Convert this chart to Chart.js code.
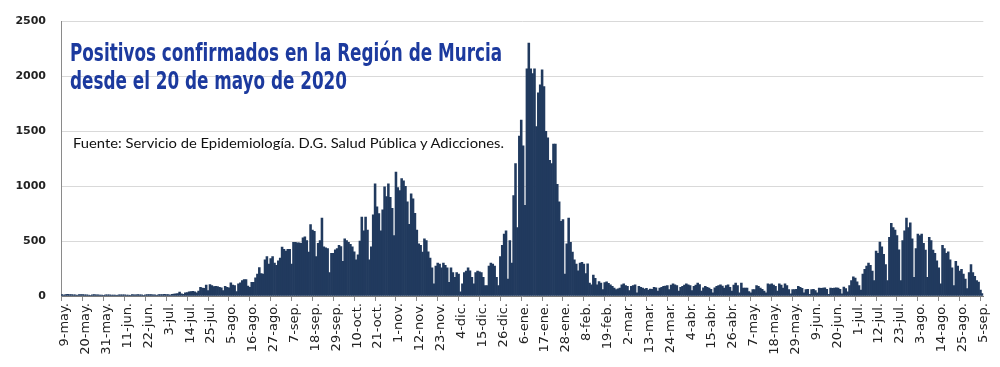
<!DOCTYPE html>
<html lang="es">
<head>
  <meta charset="UTF-8">
  <title>Positivos confirmados en la Región de Murcia</title>
  <script src="https://cdn.jsdelivr.net/npm/chart.js"></script>
  <style>
    body { margin: 0; background: #fff; }
    #wrap { position: relative; width: 1000px; height: 367px; }
    .title {
      position: absolute; left: 70px; top: 39px;
      font-family: 'DejaVu Sans Condensed', Roboto, sans-serif;
      font-weight: bold; font-size: 24px; line-height: 28px;
      color: #1c3a9e; white-space: nowrap; transform-origin: 0 0;
    }
    .source {
      position: absolute; left: 73px; top: 135px;
      font-family: Lato, 'Open Sans', sans-serif;
      font-size: 13px; line-height: 16px; color: #111; white-space: nowrap;
      transform-origin: 0 0;
    }
  </style>
</head>
<body>
<div id="wrap">
  <canvas id="casesChart" width="1000" height="367"></canvas>
  <div class="title" id="title"><span id="t1">Positivos confirmados en la Región de Murcia</span><br>desde el 20 de mayo de 2020</div>
  <div class="source" id="source">Fuente: Servicio de Epidemiología. D.G. Salud Pública y Adicciones.</div>
</div>
<script>
  // one x-axis label every 11 days, starting 9 May 2020
  const tickLabels = [
    '9-may.', '20-may.', '31-may.', '11-jun.', '22-jun.', '3-jul.', '14-jul.', '25-jul.',
    '5-ago.', '16-ago.', '27-ago.', '7-sep.', '18-sep.', '29-sep.', '10-oct.', '21-oct.',
    '1-nov.', '12-nov.', '23-nov.', '4-dic.', '15-dic.', '26-dic.', '6-ene.', '17-ene.',
    '28-ene.', '8-feb.', '19-feb.', '2-mar.', '13-mar.', '24-mar.', '4-abr.', '15-abr.',
    '26-abr.', '7-may.', '18-may.', '29-may.', '9-jun.', '20-jun.', '1-jul.', '12-jul.',
    '23-jul.', '3-ago.', '14-ago.', '25-ago.', '5-sep.'
  ];
  const labelEvery = 11;

  const yTicks = [0, 500, 1000, 1500, 2000, 2500];

  // daily confirmed positives, 9 May 2020 onwards
  const dailyCases = [
    // may - early jul 2020
    12, 8, 14, 15, 13, 12, 11, 10, 6, 12, 13, 12, 11, 10, 9, 5, 11, 12, 10, 10, 9,
    8, 5, 10, 11, 10, 9, 9, 8, 4, 10, 11, 11, 10, 9, 9, 5, 12, 10, 11, 12, 10,
    10, 6, 11, 12, 13, 12, 11, 11, 6, 13, 14, 12, 15, 13, 12, 8, 16, 18, 20, 22,
    // jul
    35, 20, 15, 28, 32, 38, 40, 42, 38, 30, 45, 80, 72, 70, 100, 50, 105, 95, 85,
    // aug - sep
    88, 85, 80, 75, 50, 88, 80, 75, 120, 100, 95, 40, 110, 120, 140, 150, 150, 90, 80,
    125, 125, 165, 200, 260, 205, 200, 330, 360, 290, 340, 360, 300, 280, 320, 345,
    445, 425, 410, 425, 425, 290, 490, 490, 485, 485, 480, 530, 540, 505, 400, 650,
    600, 590, 360, 480, 505, 710,
    // late sep - nov
    447, 440, 432, 213, 389, 389, 420, 432, 462, 450, 316, 520, 505, 490, 470, 447,
    403, 330, 374, 500, 719, 593, 719, 600, 330, 447, 740, 1023, 813, 750, 593, 784,
    994, 906, 1023, 900, 798, 550, 1129, 988, 960, 1070, 1050, 1000, 857, 652, 930,
    886, 754, 600, 476, 462, 400, 520, 505, 403, 345, 257, 111,
    // nov - dec
    272, 300, 290, 257, 301, 280, 257, 125, 257, 213, 169, 213, 200, 38, 111, 213,
    228, 257, 230, 169, 111, 213, 228, 220, 213, 169, 96, 96, 272, 301, 290, 272, 169, 96,
    // third wave, dec 2020 - feb 2021
    360, 462, 564, 594, 155, 506, 301, 915, 1207, 623, 1456, 1602, 1368, 827, 2070,
    2304, 2070, 2026, 2070, 1544, 1850, 1923, 2061, 1908, 1500, 1441, 1237, 1207,
    1383, 1383, 1017, 857, 681, 696, 199, 476, 710, 490, 400, 330, 290, 230,
    // feb - may 2021
    300, 307, 290, 204, 292, 117, 102, 190, 160, 102, 131, 117, 58, 122, 128, 115,
    102, 88, 73, 58, 65, 73, 102, 110, 95, 88, 50, 88, 95, 102, 29, 88, 80, 73, 63,
    70, 55, 63, 60, 80, 75, 44, 73, 80, 88, 90, 95, 58, 100, 110, 102, 95, 44, 80,
    88, 100, 110, 102, 95, 50, 88, 100, 117, 105, 44, 75, 88, 80, 73, 60, 29, 75, 88,
    95, 102, 90, 73, 95, 102, 80, 44, 100, 117, 95, 29, 117, 73,
    // may - jun 2021
    73, 73, 40, 29, 58, 58, 96, 88, 73, 60, 44, 29, 110, 105, 110, 100, 88, 44, 110,
    100, 73, 110, 95, 58, 20, 58, 58, 60, 88, 80, 70, 29, 58, 60, 15, 58, 60, 50, 29,
    73, 70, 73, 75, 60, 15, 73, 70, 73, 75, 73, 60, 20,
    // fifth wave, jul - sep 2021
    82, 67, 38, 96, 140, 175, 164, 130, 96, 53, 199, 243, 272, 301, 280, 228, 140,
    409, 389, 491, 447, 380, 287, 140, 535, 661, 623, 600, 550, 420, 140, 506, 593,
    710, 623, 667, 520, 170, 433, 564, 550, 564, 480, 418, 170, 535, 506, 418, 389,
    320, 257, 111, 462, 433, 389, 403, 330, 257, 96, 316, 272, 228, 243, 200, 155, 67,
    213, 287, 213, 180, 140, 126, 53, 23
  ];

  const days = dailyCases.map((v, i) => i);

  // squeeze the overlay texts to the width they have in the original
  function fitWidth(el, measured, target) {
    const w = measured.getBoundingClientRect().width;
    if (w > 0) el.style.transform = 'scaleX(' + (target / w) + ')';
  }
  fitWidth(document.getElementById('title'), document.getElementById('t1'), 432);
  fitWidth(document.getElementById('source'), document.getElementById('source'), 431);

  const ctx = document.getElementById('casesChart').getContext('2d');
  new Chart(ctx, {
    type: 'bar',
    data: {
      labels: days,
      datasets: [{
        label: 'Positivos',
        data: dailyCases,
        backgroundColor: '#213a5e',
        borderWidth: 0,
        barPercentage: 1,
        categoryPercentage: 1
      }]
    },
    options: {
      responsive: false,
      animation: false,
      devicePixelRatio: 1,
      layout: { padding: { top: 10, right: 15, left: 0, bottom: 0 } },
      plugins: { legend: { display: false }, tooltip: { enabled: false } },
      scales: {
        x: {
          afterFit: s => { s.height = 71; },
          border: { color: '#7a7a7a', width: 1 },
          grid: {
            drawOnChartArea: false,
            offset: false,
            tickLength: 5,
            tickColor: c => (c.index % labelEvery === 0 ? '#8a8a8a' : 'rgba(0,0,0,0)')
          },
          ticks: {
            autoSkip: false,
            maxRotation: 90,
            minRotation: 90,
            padding: 2,
            labelOffset: 3,
            color: '#222',
            font: { family: 'DejaVu Sans', size: 13 },
            callback: (value, index) => (index % labelEvery === 0 ? (tickLabels[index / labelEvery] || '') : '')
          }
        },
        y: {
          min: yTicks[0],
          max: yTicks[yTicks.length - 1],
          afterFit: s => { s.width = 61; },
          afterBuildTicks: s => { s.ticks = yTicks.map(v => ({ value: v })); },
          border: { color: '#8a8a8a', width: 1 },
          grid: { color: '#d9d9d9', drawTicks: false },
          ticks: {
            padding: 15,
            color: '#222',
            font: { family: 'DejaVu Sans', size: 11, weight: 'bold' },
            callback: v => String(v)
          }
        }
      }
    }
  });
</script>
</body>
</html>
